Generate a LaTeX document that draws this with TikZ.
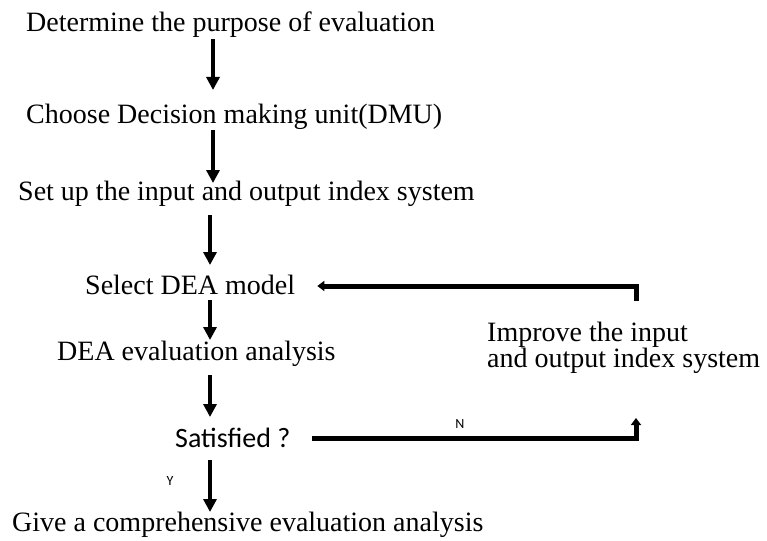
\documentclass[tikz,border=0pt]{standalone}
\usepackage{fontspec}
\setmainfont{Liberation Serif}
\newfontfamily\sansf{Carlito}
\usetikzlibrary{arrows.meta,calc}
\begin{document}
\begin{tikzpicture}[x=1pt,y=-1pt,
  txt/.style={anchor=base west,inner sep=0pt,font=\fontsize{28}{26}\selectfont},
  stxt/.style={anchor=base west,inner sep=0pt,font=\sansf\fontsize{28}{30}\selectfont},
  lbl/.style={anchor=base,inner sep=0pt,font=\sansf\fontsize{14}{16}\selectfont},
  varr/.style={line width=3.6pt,-{Triangle[width=13pt,length=13pt]}},
  harr/.style={line width=5pt,-{Triangle[width=10pt,length=7pt]}}]
\useasboundingbox (0,0) rectangle (767,540);
\coordinate (ax) at (213,0);
\coordinate (bx) at (210,0);
\coordinate (rx) at (636,0);
\node[txt] (t1) at (26,32) {Determine the purpose of evaluation};
\node[txt] (t2) at (26,124) {Choose Decision making unit(DMU)};
\node[txt] (t3) at (18,200) {Set up the input and output index system};
\node[txt] (t4) at (85,294) {Select DEA model};
\node[txt] (t5) at (57,360) {DEA evaluation analysis};
\node[txt,align=left] (imp) at (487,367) {Improve the input\\and output index system};
\node[stxt] (sat) at (175,447) {Satisfied ?};
\node[txt] (t6) at (12,531) {Give a comprehensive evaluation analysis};
\node[lbl] (n) at (460,428) {N};
\node[lbl] (y) at (170,485) {Y};
\draw[varr] ([yshift=-7pt]t1.base -| ax) -- ([yshift=34pt]t2.base -| ax);
\draw[varr] ([yshift=-6pt]t2.base -| ax) -- ([yshift=17pt]t3.base -| ax);
\draw[varr] ([yshift=-15pt]t3.base -| bx) -- ([yshift=29pt]t4.base -| bx);
\draw[varr] ([yshift=-6pt]t4.base -| bx) -- ([yshift=20pt]t5.base -| bx);
\draw[varr] ([yshift=-15pt]t5.base -| bx) -- ([yshift=30pt]sat.base -| bx);
\draw[varr] ([yshift=-13pt]sat.base -| bx) -- ([yshift=19pt]t6.base -| bx);
\draw[harr] ([xshift=22pt,yshift=9pt]sat.base east) -- ([yshift=9pt]sat.base -| rx) -- ([yshift=29pt]sat.base -| rx);
\draw[harr] ([yshift=-7pt]t4.base -| rx) -- ([yshift=8pt]t4.base -| rx) -- ([xshift=22pt,yshift=8pt]t4.base east);
\end{tikzpicture}
\end{document}
